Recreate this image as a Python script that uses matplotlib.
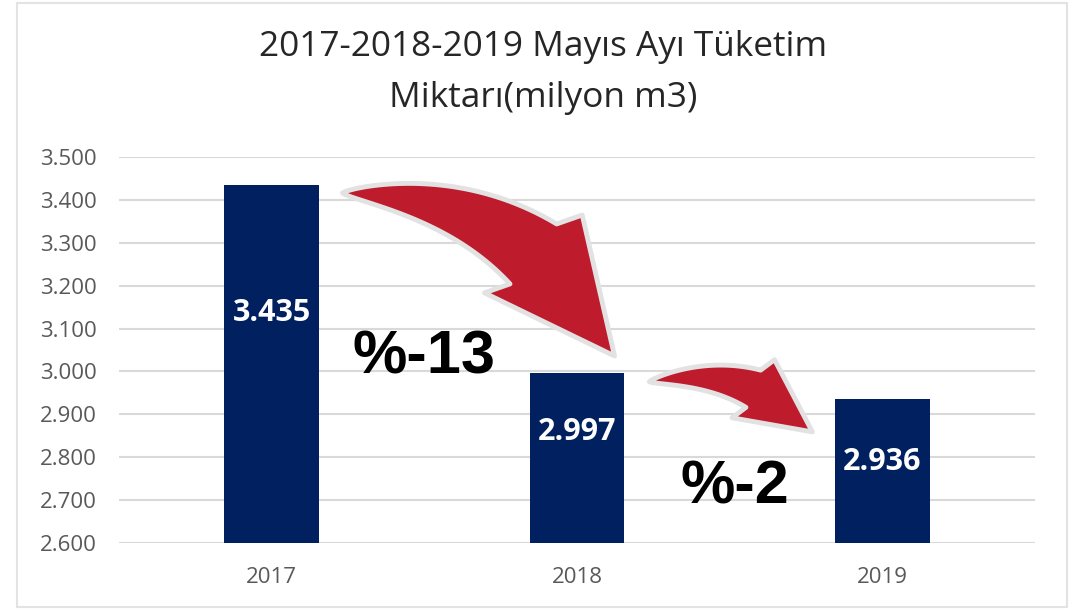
import numpy as np
import matplotlib
matplotlib.use("Agg")
import matplotlib.pyplot as plt
from matplotlib.patches import Polygon, Rectangle

# Data (milyon m3)
years = ['2017', '2018', '2019']
consumption = [3435, 2997, 2936]
changes = ['%-13', '%-2']
y_ticks = [2600, 2700, 2800, 2900, 3000, 3100, 3200, 3300, 3400, 3500]

NAVY = '#002060'
RED = '#be1b2c'
GRID = '#d9d9d9'
TEXT = '#595959'


def tr_fmt(v):
    # Turkish thousands separator
    return f"{v:,.0f}".replace(',', '.')


def curved_arrow(ax, start, end, dir0, dir2, tail_w, head_w, head_len, power=0.75):
    # thick tapering curved arrow, built in pixel space then mapped back to data.
    # dir0 / dir2: direction of travel at the tail and at the tip (pixel space)
    p0 = ax.transData.transform(start)
    p2 = ax.transData.transform(end)
    d0 = np.array(dir0, float)
    d2 = np.array(dir2, float)
    # control point = crossing of the two tangent lines
    u, v = np.linalg.solve(np.column_stack([d0, d2]), p2 - p0)
    c = p0 + u * d0
    t = np.linspace(0, 1, 300)[:, None]
    curve = (1 - t) ** 2 * p0 + 2 * (1 - t) * t * c + t ** 2 * p2
    s = np.concatenate([[0], np.cumsum(np.hypot(*np.diff(curve, axis=0).T))])
    k = np.searchsorted(s, s[-1] - head_len)
    body = curve[:k + 1]
    tang = np.gradient(body, axis=0)
    tang /= np.hypot(tang[:, 0], tang[:, 1])[:, None]
    norm = np.column_stack([-tang[:, 1], tang[:, 0]])
    w = tail_w / 2 * (s[:k + 1] / s[k]) ** power
    left = body + norm * w[:, None]
    right = body - norm * w[:, None]
    base = curve[k]
    hd = (p2 - base) / np.hypot(*(p2 - base))
    hn = np.array([-hd[1], hd[0]])
    hl = base + hn * head_w / 2
    hr = base - hn * head_w / 2
    poly = np.vstack([left, hl, p2, hr, right[::-1]])
    poly = ax.transData.inverted().transform(poly)
    ax.add_patch(Polygon(poly, closed=True, facecolor=RED, edgecolor='#e2e2e2',
                         lw=3.5, joinstyle='round', zorder=5, clip_on=False))


fig = plt.figure(figsize=(10.69, 6.09), dpi=100)
fig.patches.append(Rectangle((17 / 1069, 2 / 609), 1050 / 1069, 604 / 609,
                             transform=fig.transFigure, fill=False,
                             edgecolor='#e3e3e3', lw=1.5))

ax = fig.add_axes([119 / 1069, 66 / 609, 916 / 1069, 386 / 609])
x = np.arange(len(years))
ax.bar(x, consumption, width=0.31, color=NAVY, zorder=3)

ax.set_xlim(-0.5, 2.5)
ax.set_ylim(2600, 3500)
ax.set_yticks(y_ticks)
ax.set_yticklabels([tr_fmt(v) for v in y_ticks], fontsize=16, color=TEXT,
                   family='Open Sans')
ax.set_xticks(x)
ax.set_xticklabels(years, fontsize=16, color=TEXT, family='Open Sans')
ax.tick_params(axis='y', length=0, pad=16)
ax.tick_params(axis='x', length=0, pad=17)
ax.grid(axis='y', color=GRID, lw=1.5, zorder=0)
for sp in ax.spines.values():
    sp.set_visible(False)

# value labels inside bars
label_y = [3136, 2859, 2789]
for xi, v, ly in zip(x, consumption, label_y):
    ax.text(xi, ly, tr_fmt(v), ha='center', va='center', color='white',
            fontsize=22, fontweight='bold', family='Open Sans', zorder=6)

# arrows between bars
curved_arrow(ax, (x[0] + 0.232, consumption[0] - 19), (x[1] + 0.123, consumption[1] + 39),
             dir0=(1, -0.02), dir2=(0.5, -1), tail_w=76, head_w=125, head_len=132)
curved_arrow(ax, (x[1] + 0.237, consumption[1] - 21), (x[2] - 0.229, consumption[2] - 77),
             dir0=(1, 0.18), dir2=(0.85, -1.0), tail_w=40, head_w=72, head_len=74)

# percentage changes
ax.text(0.50, 3031, changes[0], ha='center', va='center', fontsize=44,
        fontweight='bold', family='Liberation Sans', color='black', zorder=6)
ax.text(1.516, 2728, changes[1], ha='center', va='center', fontsize=44,
        fontweight='bold', family='Liberation Sans', color='black', zorder=6)

fig.text(543 / 1069, 1 - 47 / 609, '2017-2018-2019 Mayıs Ayı Tüketim',
         ha='center', va='center', fontsize=25.4, color='#262626', family='Open Sans')
fig.text(543 / 1069, 1 - 98 / 609, 'Miktarı(milyon m3)',
         ha='center', va='center', fontsize=25.4, color='#262626', family='Open Sans')

fig.savefig('out.png', dpi=100)
